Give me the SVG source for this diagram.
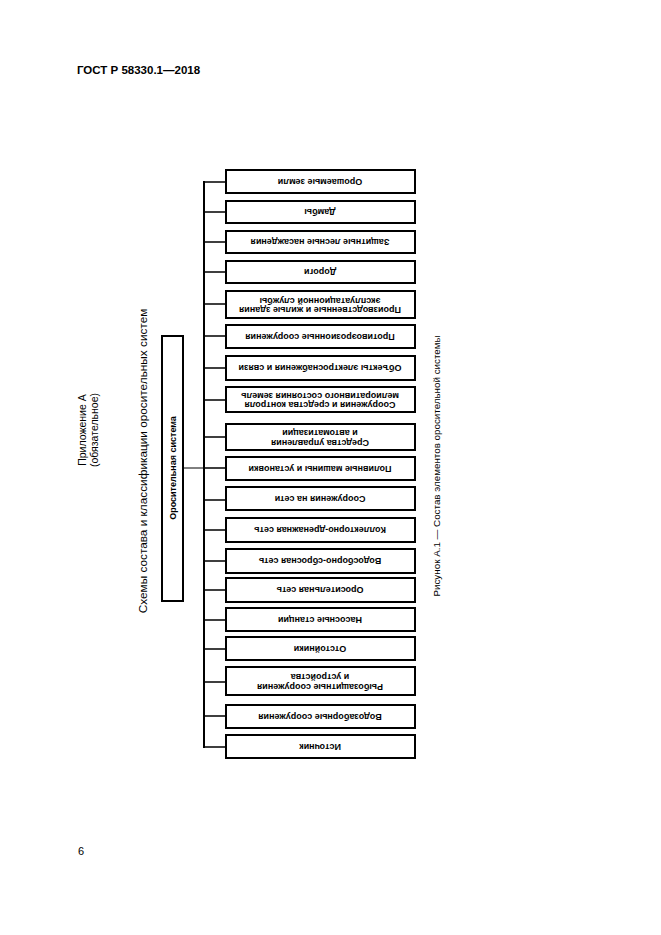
<svg xmlns="http://www.w3.org/2000/svg" width="661" height="935" viewBox="0 0 661 935">
<style>
.bx{fill:#fff;stroke:#000;stroke-width:2}
.t{font-family:"Liberation Sans",Arial,sans-serif;font-size:9px;font-weight:bold;fill:#000;text-anchor:middle}
.s{font-family:"Liberation Sans",Arial,sans-serif;fill:#000;text-anchor:middle}
.ln{stroke:#000;fill:none}
</style>
<rect width="661" height="935" fill="#fff"/>
<text x="77" y="74" style="font-family:'Liberation Sans',Arial,sans-serif;font-size:11.5px;font-weight:bold">ГОСТ Р 58330.1—2018</text>
<text x="78" y="855" style="font-family:'Liberation Sans',Arial,sans-serif;font-size:11px">6</text>
<text class="s" transform="rotate(-90 86 430)" x="86" y="430" font-size="10.5">Приложение А</text>
<text class="s" transform="rotate(-90 98 430)" x="98" y="430" font-size="10.5">(обязательное)</text>
<text class="s" transform="rotate(-90 147 461)" x="147" y="461" font-size="11.8">Схемы состава и классификации оросительных систем</text>
<text class="s" transform="rotate(-90 440 466)" x="440" y="466" font-size="9.8">Рисунок А.1 — Состав элементов оросительной системы</text>
<g id="connectors">
<line class="ln" stroke-width="2" x1="204" y1="181" x2="204" y2="748"/>
<line class="ln" stroke-width="1" x1="183" y1="468" x2="204" y2="468"/>
<path class="ln" stroke-width="1.5" d="M204 182H226M204 212H226M204 242H226M204 272H226M204 304H226M204 336H226M204 368H226M204 400H226M204 437H226M204 468H226M204 500H226M204 530H226M204 561H226M204 590H226M204 620H226M204 649H226M204 682H226M204 716H226M204 747H226"/>
</g>
<g id="n0"><rect class="bx" x="162" y="336" width="21" height="265"/><text class="t" transform="rotate(-90 172.5 468)" x="172.5" y="471">Оросительная система</text></g>
<g id="n1"><rect class="bx" x="226" y="170" width="189" height="23"/><text class="t" transform="rotate(180 320 181.5)" x="320" y="184.5">Орошаемые земли</text></g>
<g id="n2"><rect class="bx" x="226" y="201" width="189" height="22"/><text class="t" transform="rotate(180 320 212)" x="320" y="215">Дамбы</text></g>
<g id="n3"><rect class="bx" x="226" y="231" width="189" height="22"/><text class="t" transform="rotate(180 320 242)" x="320" y="245">Защитные лесные насаждения</text></g>
<g id="n4"><rect class="bx" x="226" y="261" width="189" height="22"/><text class="t" transform="rotate(180 320 272)" x="320" y="275">Дороги</text></g>
<g id="n5"><rect class="bx" x="226" y="291" width="189" height="27"/><text class="t" transform="rotate(180 320 304.5)" x="320" y="302">Производственные и жилые здания<tspan x="320" dy="9.5">эксплуатационной службы</tspan></text></g>
<g id="n6"><rect class="bx" x="226" y="325" width="189" height="23"/><text class="t" transform="rotate(180 320 336.5)" x="320" y="339.5">Противоэрозионные сооружения</text></g>
<g id="n7"><rect class="bx" x="226" y="356" width="189" height="24"/><text class="t" transform="rotate(180 320 368)" x="320" y="371">Объекты электроснабжения и связи</text></g>
<g id="n8"><rect class="bx" x="226" y="387" width="189" height="25"/><text class="t" transform="rotate(180 320 399.5)" x="320" y="397">Сооружения и средства контроля<tspan x="320" dy="9.5">мелиоративного состояния земель</tspan></text></g>
<g id="n9"><rect class="bx" x="226" y="424" width="189" height="26"/><text class="t" transform="rotate(180 320 437)" x="320" y="434.5">Средства управления<tspan x="320" dy="9.5">и автоматизации</tspan></text></g>
<g id="n10"><rect class="bx" x="226" y="457" width="189" height="23"/><text class="t" transform="rotate(180 320 468.5)" x="320" y="471.5">Поливные машины и установки</text></g>
<g id="n11"><rect class="bx" x="226" y="487" width="189" height="23"/><text class="t" transform="rotate(180 320 498.5)" x="320" y="501.5">Сооружения на сети</text></g>
<g id="n12"><rect class="bx" x="226" y="518" width="189" height="24"/><text class="t" transform="rotate(180 320 530)" x="320" y="533">Коллекторно-дренажная сеть</text></g>
<g id="n13"><rect class="bx" x="226" y="549" width="189" height="24"/><text class="t" transform="rotate(180 320 561)" x="320" y="564">Водосборно-сбросная сеть</text></g>
<g id="n14"><rect class="bx" x="226" y="578" width="189" height="24"/><text class="t" transform="rotate(180 320 590)" x="320" y="593">Оросительная сеть</text></g>
<g id="n15"><rect class="bx" x="226" y="608" width="189" height="23"/><text class="t" transform="rotate(180 320 619.5)" x="320" y="622.5">Насосные станции</text></g>
<g id="n16"><rect class="bx" x="226" y="637" width="189" height="23"/><text class="t" transform="rotate(180 320 648.5)" x="320" y="651.5">Отстойники</text></g>
<g id="n17"><rect class="bx" x="226" y="667" width="189" height="28"/><text class="t" transform="rotate(180 320 681)" x="320" y="678.5">Рыбозащитные сооружения<tspan x="320" dy="9.5">и устройства</tspan></text></g>
<g id="n18"><rect class="bx" x="226" y="705" width="189" height="23"/><text class="t" transform="rotate(180 320 716.5)" x="320" y="719.5">Водозаборные сооружения</text></g>
<g id="n19"><rect class="bx" x="226" y="735" width="189" height="23"/><text class="t" transform="rotate(180 320 746.5)" x="320" y="749.5">Источник</text></g>
</svg>
